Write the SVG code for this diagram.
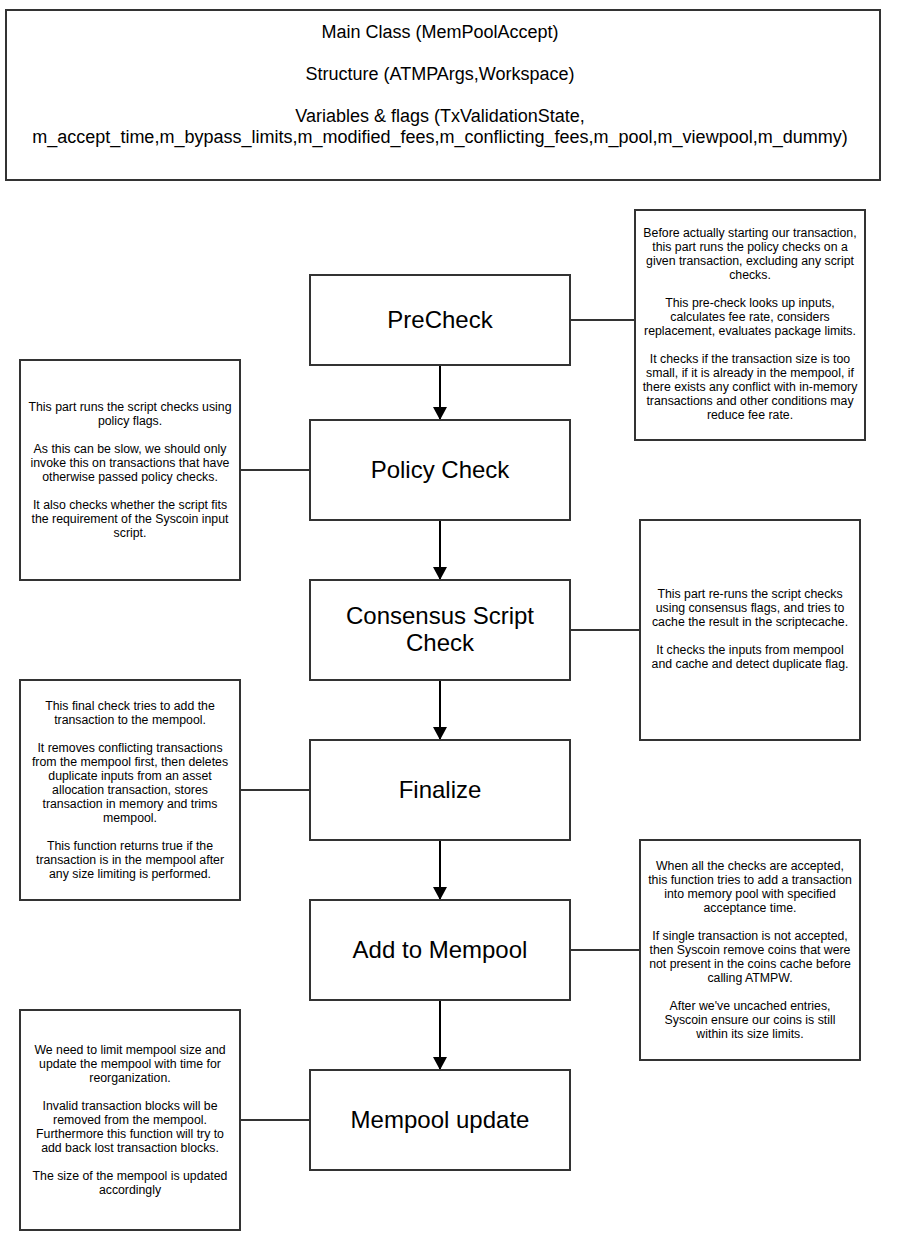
<svg xmlns="http://www.w3.org/2000/svg" width="900" height="1250" viewBox="0 0 900 1250">
<style>
rect{fill:#fff;stroke:#333;stroke-width:2}
.t{font-family:"Liberation Sans",Arial,sans-serif;fill:#000;text-anchor:middle}
.h{font-size:18px}
.m{font-size:24px}
.s{font-size:12.3px}
.c{stroke:#333;stroke-width:2;fill:none}
.a{stroke:#000;stroke-width:2;fill:none}
</style>
<defs>
<marker id="ah" markerWidth="14" markerHeight="14" viewBox="0 0 14 14" refX="13" refY="7" orient="auto" markerUnits="userSpaceOnUse">
<path d="M0,0 L13,7 L0,14 Z" fill="#000"/>
</marker>
</defs>
<rect x="0" y="0" width="900" height="1250" style="stroke:none"/>
<g id="main-class">
<rect x="6" y="10" width="874" height="170"/>
<text class="t h" x="440" y="38">Main Class (MemPoolAccept)</text>
<text class="t h" x="440" y="80">Structure (ATMPArgs,Workspace)</text>
<text class="t h" x="440" y="122">Variables &amp; flags (TxValidationState,</text>
<text class="t h" x="440" y="143">m_accept_time,m_bypass_limits,m_modified_fees,m_conflicting_fees,m_pool,m_viewpool,m_dummy)</text>
</g>
<g id="connectors">
<path class="a" d="M440,365 V420" marker-end="url(#ah)"/>
<path class="a" d="M440,520 V580" marker-end="url(#ah)"/>
<path class="a" d="M440,680 V740" marker-end="url(#ah)"/>
<path class="a" d="M440,840 V900" marker-end="url(#ah)"/>
<path class="a" d="M440,1000 V1070" marker-end="url(#ah)"/>
<path class="c" d="M570,320 H635"/>
<path class="c" d="M240,470 H310"/>
<path class="c" d="M570,630 H640"/>
<path class="c" d="M240,790 H310"/>
<path class="c" d="M570,950 H640"/>
<path class="c" d="M240,1120 H310"/>
</g>
<g id="precheck">
<rect x="310" y="275" width="260" height="90"/>
<text class="t m" x="440" y="328">PreCheck</text>
</g>
<g id="policy-check">
<rect x="310" y="420" width="260" height="100"/>
<text class="t m" x="440" y="478">Policy Check</text>
</g>
<g id="consensus-script-check">
<rect x="310" y="580" width="260" height="100"/>
<text class="t m" x="440" y="624">Consensus Script</text>
<text class="t m" x="440" y="651">Check</text>
</g>
<g id="finalize">
<rect x="310" y="740" width="260" height="100"/>
<text class="t m" x="440" y="798">Finalize</text>
</g>
<g id="add-to-mempool">
<rect x="310" y="900" width="260" height="100"/>
<text class="t m" x="440" y="958">Add to Mempool</text>
</g>
<g id="mempool-update">
<rect x="310" y="1070" width="260" height="100"/>
<text class="t m" x="440" y="1128">Mempool update</text>
</g>
<g id="note-precheck">
<rect x="635" y="210" width="230" height="230"/>
<text class="t s" x="750" y="237">Before actually starting our transaction,</text>
<text class="t s" x="750" y="251">this part runs the policy checks on a</text>
<text class="t s" x="750" y="265">given transaction, excluding any script</text>
<text class="t s" x="750" y="279">checks.</text>
<text class="t s" x="750" y="307">This pre-check looks up inputs,</text>
<text class="t s" x="750" y="321">calculates fee rate, considers</text>
<text class="t s" x="750" y="335">replacement, evaluates package limits.</text>
<text class="t s" x="750" y="363">It checks if the transaction size is too</text>
<text class="t s" x="750" y="377">small, if it is already in the mempool, if</text>
<text class="t s" x="750" y="391">there exists any conflict with in-memory</text>
<text class="t s" x="750" y="405">transactions and other conditions may</text>
<text class="t s" x="750" y="419">reduce fee rate.</text>
</g>
<g id="note-policy">
<rect x="20" y="360" width="220" height="220"/>
<text class="t s" x="130" y="411">This part runs the script checks using</text>
<text class="t s" x="130" y="425">policy flags.</text>
<text class="t s" x="130" y="453">As this can be slow, we should only</text>
<text class="t s" x="130" y="467">invoke this on transactions that have</text>
<text class="t s" x="130" y="481">otherwise passed policy checks.</text>
<text class="t s" x="130" y="509">It also checks whether the script fits</text>
<text class="t s" x="130" y="523">the requirement of the Syscoin input</text>
<text class="t s" x="130" y="537">script.</text>
</g>
<g id="note-consensus">
<rect x="640" y="520" width="220" height="220"/>
<text class="t s" x="750" y="598">This part re-runs the script checks</text>
<text class="t s" x="750" y="612">using consensus flags, and tries to</text>
<text class="t s" x="750" y="626">cache the result in the scriptecache.</text>
<text class="t s" x="750" y="654">It checks the inputs from mempool</text>
<text class="t s" x="750" y="668">and cache and detect duplicate flag.</text>
</g>
<g id="note-finalize">
<rect x="20" y="680" width="220" height="220"/>
<text class="t s" x="130" y="710">This final check tries to add the</text>
<text class="t s" x="130" y="724">transaction to the mempool.</text>
<text class="t s" x="130" y="752">It removes conflicting transactions</text>
<text class="t s" x="130" y="766">from the mempool first, then deletes</text>
<text class="t s" x="130" y="780">duplicate inputs from an asset</text>
<text class="t s" x="130" y="794">allocation transaction, stores</text>
<text class="t s" x="130" y="808">transaction in memory and trims</text>
<text class="t s" x="130" y="822">mempool.</text>
<text class="t s" x="130" y="850">This function returns true if the</text>
<text class="t s" x="130" y="864">transaction is in the mempool after</text>
<text class="t s" x="130" y="878">any size limiting is performed.</text>
</g>
<g id="note-add">
<rect x="640" y="840" width="220" height="220"/>
<text class="t s" x="750" y="870">When all the checks are accepted,</text>
<text class="t s" x="750" y="884">this function tries to add a transaction</text>
<text class="t s" x="750" y="898">into memory pool with specified</text>
<text class="t s" x="750" y="912">acceptance time.</text>
<text class="t s" x="750" y="940">If single transaction is not accepted,</text>
<text class="t s" x="750" y="954">then Syscoin remove coins that were</text>
<text class="t s" x="750" y="968">not present in the coins cache before</text>
<text class="t s" x="750" y="982">calling ATMPW.</text>
<text class="t s" x="750" y="1010">After we've uncached entries,</text>
<text class="t s" x="750" y="1024">Syscoin ensure our coins is still</text>
<text class="t s" x="750" y="1038">within its size limits.</text>
</g>
<g id="note-update">
<rect x="20" y="1010" width="220" height="220"/>
<text class="t s" x="130" y="1054">We need to limit mempool size and</text>
<text class="t s" x="130" y="1068">update the mempool with time for</text>
<text class="t s" x="130" y="1082">reorganization.</text>
<text class="t s" x="130" y="1110">Invalid transaction blocks will be</text>
<text class="t s" x="130" y="1124">removed from the mempool.</text>
<text class="t s" x="130" y="1138">Furthermore this function will try to</text>
<text class="t s" x="130" y="1152">add back lost transaction blocks.</text>
<text class="t s" x="130" y="1180">The size of the mempool is updated</text>
<text class="t s" x="130" y="1194">accordingly</text>
</g>
</svg>
